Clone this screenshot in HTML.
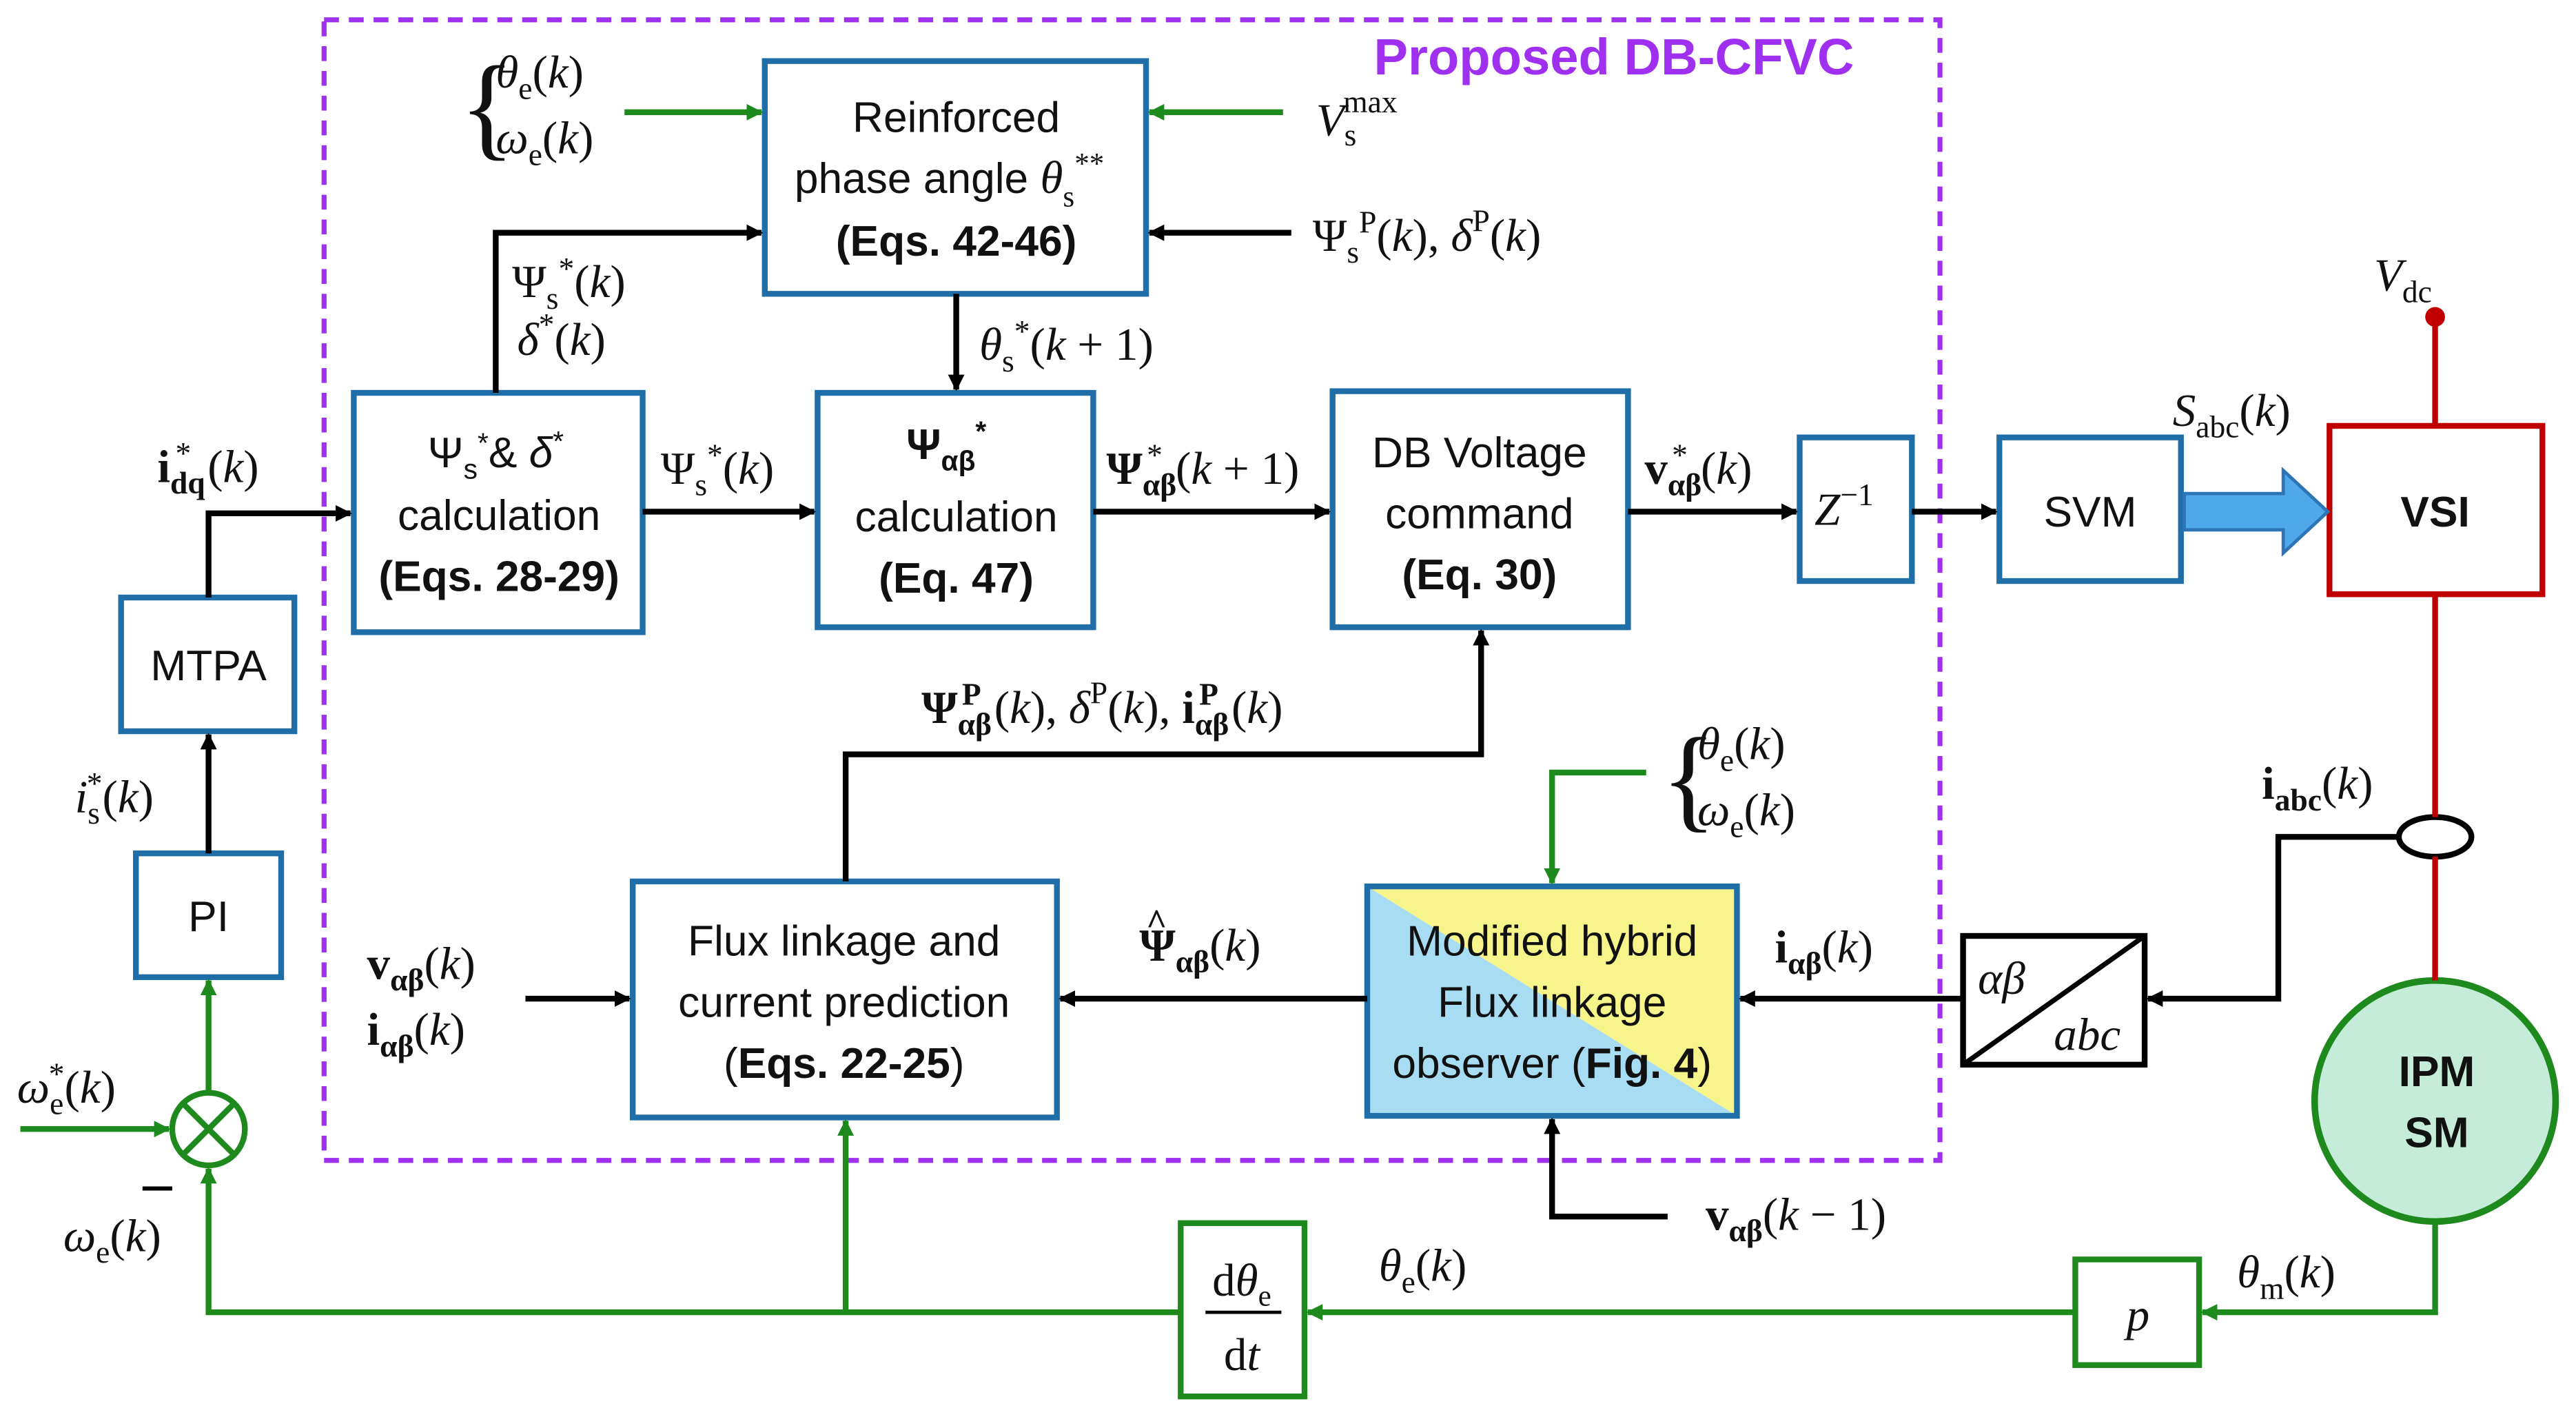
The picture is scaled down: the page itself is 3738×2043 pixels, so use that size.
<!DOCTYPE html>
<html><head><meta charset="utf-8">
<style>
html,body{margin:0;padding:0;background:#fff;}
svg{display:block;}
.t{font-family:"Liberation Sans",sans-serif;font-size:26px;fill:#111;}
.m{font-family:"Liberation Serif",serif;font-size:28px;fill:#111;}
.b{font-weight:bold;}
.br{font-family:"Liberation Serif",serif;font-size:70px;fill:#111;font-weight:normal;}
</style></head><body>
<svg width="3738" height="2043" viewBox="0 0 1560 853" xmlns="http://www.w3.org/2000/svg">
<defs>
<marker id="ak" markerWidth="10" markerHeight="10" refX="9" refY="5" orient="auto" markerUnits="userSpaceOnUse"><path d="M0,0 L10,5 L0,10 z" fill="#000"/></marker>
<marker id="ag" markerWidth="10" markerHeight="10" refX="9" refY="5" orient="auto" markerUnits="userSpaceOnUse"><path d="M0,0 L10,5 L0,10 z" fill="#1e8a1e"/></marker>
</defs>
<rect width="1560" height="853" fill="#fff"/>
<rect x="196" y="12" width="979" height="691" fill="none" stroke="#a030f0" stroke-width="3" stroke-dasharray="9,6"/>
<text x="832" y="45" font-family="Liberation Sans,sans-serif" font-size="31" font-weight="bold" fill="#a030f0">Proposed DB-CFVC</text>

<g fill="none" stroke="#1f6ea8" stroke-width="3.5">
<rect x="463" y="37" width="231" height="141"/>
<rect x="214" y="238" width="175" height="145"/>
<rect x="495" y="238" width="167" height="142"/>
<rect x="807" y="237" width="179" height="143"/>
<rect x="1090" y="265" width="68" height="87"/>
<rect x="1211" y="265" width="110" height="87"/>
<rect x="73" y="362" width="105" height="81"/>
<rect x="82" y="517" width="88" height="75"/>
<rect x="383" y="534" width="257" height="143"/>
</g>
<polygon points="828,537 1052,676 828,676" fill="#a8dcf2"/>
<polygon points="828,537 1052,537 1052,676" fill="#f6f48a"/>
<rect x="828" y="537" width="224" height="139" fill="none" stroke="#1f6ea8" stroke-width="3.5"/>
<rect x="1411" y="258" width="129" height="102" fill="none" stroke="#c00000" stroke-width="3.5"/>
<rect x="1189" y="567" width="110" height="78" fill="none" stroke="#000" stroke-width="3.5"/>
<line x1="1189" y1="645" x2="1299" y2="567" stroke="#000" stroke-width="3"/>
<circle cx="1475" cy="667" r="73" fill="#c5ecd9" stroke="#1e8a1e" stroke-width="4"/>
<g fill="none" stroke="#1e8a1e" stroke-width="3.5">
<rect x="1257" y="763" width="75" height="64"/>
<rect x="715" y="741" width="75" height="105"/>
<circle cx="126" cy="684" r="22"/>
<line x1="110" y1="668" x2="142" y2="700"/><line x1="142" y1="668" x2="110" y2="700"/>
</g>

<!-- box texts -->
<text class="t" text-anchor="middle" x="579" y="80">Reinforced</text>
<text class="t" x="481" y="117">phase angle <tspan class="m" font-style="italic">θ</tspan><tspan font-family="Liberation Serif" font-size="18" dy="8">s</tspan><tspan font-family="Liberation Serif" font-size="18" dy="-20">**</tspan></text>
<text class="t b" text-anchor="middle" x="579" y="155">(Eqs. 42-46)</text>
<text class="t" text-anchor="middle" x="300" y="283">Ψ<tspan font-size="17" dy="7">s</tspan><tspan font-size="17" dy="-16">*</tspan><tspan dy="9">&amp; </tspan><tspan font-style="italic">δ</tspan><tspan font-size="17" dy="-10">*</tspan></text>
<text class="t" text-anchor="middle" x="302" y="321">calculation</text>
<text class="t b" text-anchor="middle" x="302" y="358">(Eqs. 28-29)</text>
<text class="t b" text-anchor="middle" x="573" y="278">Ψ<tspan font-size="17" dy="7">αβ</tspan><tspan font-size="17" dy="-18">*</tspan></text>
<text class="t" text-anchor="middle" x="579" y="322">calculation</text>
<text class="t b" text-anchor="middle" x="579" y="359">(Eq. 47)</text>
<text class="t" text-anchor="middle" x="896" y="283">DB Voltage</text>
<text class="t" text-anchor="middle" x="896" y="320">command</text>
<text class="t b" text-anchor="middle" x="896" y="357">(Eq. 30)</text>
<text class="m" font-style="italic" x="1099" y="318">Z<tspan font-style="normal" font-size="19" dy="-12">−1</tspan></text>
<text class="t" text-anchor="middle" x="1266" y="319">SVM</text>
<text class="t b" text-anchor="middle" x="1475" y="319">VSI</text>
<text class="t" text-anchor="middle" x="126" y="412">MTPA</text>
<text class="t" text-anchor="middle" x="126" y="564">PI</text>
<text class="t" text-anchor="middle" x="511" y="579">Flux linkage and</text>
<text class="t" text-anchor="middle" x="511" y="616">current prediction</text>
<text class="t" text-anchor="middle" x="511" y="653">(<tspan font-weight="bold">Eqs. 22-25</tspan>)</text>
<text class="t" text-anchor="middle" x="940" y="579">Modified hybrid</text>
<text class="t" text-anchor="middle" x="940" y="616">Flux linkage</text>
<text class="t" text-anchor="middle" x="940" y="653">observer (<tspan font-weight="bold">Fig. 4</tspan>)</text>
<text class="t b" text-anchor="middle" x="1476" y="658">IPM</text>
<text class="t b" text-anchor="middle" x="1476" y="695">SM</text>
<text class="m" font-style="italic" text-anchor="middle" x="1295" y="806">p</text>
<text class="m" text-anchor="middle" x="752" y="785">d<tspan font-style="italic">θ</tspan><tspan font-size="18" dy="6">e</tspan></text>
<line x1="730" y1="795" x2="776" y2="795" stroke="#000" stroke-width="2"/>
<text class="m" text-anchor="middle" x="752" y="830">d<tspan font-style="italic">t</tspan></text>
<text class="m" font-style="italic" x="1198" y="602">αβ</text>
<text class="m" font-style="italic" x="1244" y="636">abc</text>

<!-- black connectors -->
<g fill="none" stroke="#000" stroke-width="3.5">
<path d="M782,141 L696,141" marker-end="url(#ak)"/>
<path d="M300,238 L300,141 L461,141" marker-end="url(#ak)"/>
<path d="M579,178 L579,236" marker-end="url(#ak)"/>
<path d="M126,362 L126,311 L212,311" marker-end="url(#ak)"/>
<path d="M389,310 L493,310" marker-end="url(#ak)"/>
<path d="M662,310 L805,310" marker-end="url(#ak)"/>
<path d="M986,310 L1088,310" marker-end="url(#ak)"/>
<path d="M1158,310 L1209,310" marker-end="url(#ak)"/>
<path d="M1453,507 L1380,507 L1380,605 L1301,605" marker-end="url(#ak)"/>
<path d="M1189,605 L1054,605" marker-end="url(#ak)"/>
<path d="M828,605 L642,605" marker-end="url(#ak)"/>
<path d="M318,605 L381,605" marker-end="url(#ak)"/>
<path d="M512,534 L512,457 L897,457 L897,382" marker-end="url(#ak)"/>
<path d="M1010,737 L940,737 L940,678" marker-end="url(#ak)"/>
<path d="M126,517 L126,445" marker-end="url(#ak)"/>
</g>
<ellipse cx="1475" cy="507" rx="22" ry="12" fill="#fff" stroke="#000" stroke-width="3.5"/>

<!-- red -->
<g stroke="#c00000" stroke-width="3.5" fill="none">
<path d="M1475,192 L1475,258"/>
<path d="M1475,360 L1475,495"/>
<path d="M1475,519 L1475,594"/>
</g>
<circle cx="1475" cy="192" r="6" fill="#c00000"/>

<!-- blue arrow -->
<polygon points="1323,299 1383,299 1383,285 1410,310 1383,335 1383,321 1323,321" fill="#4ea8ea" stroke="#2e75b6" stroke-width="2"/>

<!-- green connectors -->
<g fill="none" stroke="#1e8a1e" stroke-width="3.5">
<path d="M378,68 L461,68" marker-end="url(#ag)"/>
<path d="M777,68 L696,68" marker-end="url(#ag)"/>
<path d="M997,468 L940,468 L940,535" marker-end="url(#ag)"/>
<path d="M1475,740 L1475,795 L1334,795" marker-end="url(#ag)"/>
<path d="M1257,795 L792,795" marker-end="url(#ag)"/>
<path d="M715,795 L126,795 L126,708" marker-end="url(#ag)"/>
<path d="M512,795 L512,679" marker-end="url(#ag)"/>
<path d="M12,684 L102,684" marker-end="url(#ag)"/>
<path d="M126,662 L126,594" marker-end="url(#ag)"/>
</g>

<!-- labels -->
<text class="br" x="278" y="88">{</text>
<text class="m" x="300" y="53"><tspan font-style="italic">θ</tspan><tspan font-size="19" dy="7">e</tspan><tspan dy="-7">(</tspan><tspan font-style="italic">k</tspan>)</text>
<text class="m" x="300" y="93"><tspan font-style="italic">ω</tspan><tspan font-size="19" dy="7">e</tspan><tspan dy="-7">(</tspan><tspan font-style="italic">k</tspan>)</text>
<text class="br" x="1006" y="495">{</text>
<text class="m" x="1028" y="460"><tspan font-style="italic">θ</tspan><tspan font-size="19" dy="7">e</tspan><tspan dy="-7">(</tspan><tspan font-style="italic">k</tspan>)</text>
<text class="m" x="1028" y="500"><tspan font-style="italic">ω</tspan><tspan font-size="19" dy="7">e</tspan><tspan dy="-7">(</tspan><tspan font-style="italic">k</tspan>)</text>
<text class="m" font-style="italic" x="797" y="82">V<tspan font-style="normal" font-size="19" dy="6">s</tspan><tspan font-style="normal" font-size="19" dx="-8" dy="-20">max</tspan></text>
<text class="m" x="795" y="152">Ψ<tspan font-size="19" dy="7">s</tspan><tspan font-size="19" dy="-18">P</tspan><tspan dy="11">(</tspan><tspan font-style="italic">k</tspan>), <tspan font-style="italic">δ</tspan><tspan font-size="19" dy="-12">P</tspan><tspan dy="12">(</tspan><tspan font-style="italic">k</tspan>)</text>
<text class="m" x="310" y="180">Ψ<tspan font-size="19" dy="7">s</tspan><tspan font-size="19" dy="-18">*</tspan><tspan dy="11">(</tspan><tspan font-style="italic">k</tspan>)</text>
<text class="m" x="313" y="215"><tspan font-style="italic">δ</tspan><tspan font-size="19" dy="-12">*</tspan><tspan dy="12">(</tspan><tspan font-style="italic">k</tspan>)</text>
<text class="m" x="593" y="218"><tspan font-style="italic">θ</tspan><tspan font-size="19" dy="7">s</tspan><tspan font-size="19" dy="-18">*</tspan><tspan dy="11">(</tspan><tspan font-style="italic">k</tspan> + 1)</text>
<text class="m" x="95" y="292"><tspan font-weight="bold">i</tspan><tspan font-size="19" font-weight="bold" dy="7">dq</tspan><tspan font-size="19" dx="-18" dy="-18">*</tspan><tspan dx="10" dy="11">(</tspan><tspan font-style="italic">k</tspan>)</text>
<text class="m" x="400" y="293">Ψ<tspan font-size="19" dy="7">s</tspan><tspan font-size="19" dy="-18">*</tspan><tspan dy="11">(</tspan><tspan font-style="italic">k</tspan>)</text>
<text class="m" x="670" y="293"><tspan font-weight="bold">Ψ</tspan><tspan font-size="19" font-weight="bold" dy="7">αβ</tspan><tspan font-size="19" dx="-18" dy="-18">*</tspan><tspan dx="8" dy="11">(</tspan><tspan font-style="italic">k</tspan> + 1)</text>
<text class="m" x="996" y="293"><tspan font-weight="bold">v</tspan><tspan font-size="19" font-weight="bold" dy="7">αβ</tspan><tspan font-size="19" dx="-18" dy="-18">*</tspan><tspan dx="8" dy="11">(</tspan><tspan font-style="italic">k</tspan>)</text>
<text class="m" x="1316" y="258"><tspan font-style="italic">S</tspan><tspan font-size="19" dy="7">abc</tspan><tspan dy="-7">(</tspan><tspan font-style="italic">k</tspan>)</text>
<text class="m" x="1438" y="176"><tspan font-style="italic">V</tspan><tspan font-size="19" dy="7">dc</tspan></text>
<text class="m" x="1370" y="484"><tspan font-weight="bold">i</tspan><tspan font-size="19" font-weight="bold" dy="7">abc</tspan><tspan dy="-7">(</tspan><tspan font-style="italic">k</tspan>)</text>
<text class="m" x="1075" y="583"><tspan font-weight="bold">i</tspan><tspan font-size="19" font-weight="bold" dy="7">αβ</tspan><tspan dy="-7">(</tspan><tspan font-style="italic">k</tspan>)</text>
<text class="m" x="690" y="582"><tspan font-weight="bold">Ψ</tspan><tspan font-size="19" font-weight="bold" dy="7">αβ</tspan><tspan dy="-7">(</tspan><tspan font-style="italic">k</tspan>)</text>
<text class="m" x="694" y="566" font-weight="bold" style="font-size:22px">^</text>
<text class="m" x="222" y="593"><tspan font-weight="bold">v</tspan><tspan font-size="19" font-weight="bold" dy="7">αβ</tspan><tspan dy="-7">(</tspan><tspan font-style="italic">k</tspan>)</text>
<text class="m" x="222" y="633"><tspan font-weight="bold">i</tspan><tspan font-size="19" font-weight="bold" dy="7">αβ</tspan><tspan dy="-7">(</tspan><tspan font-style="italic">k</tspan>)</text>
<text class="m" x="558" y="438"><tspan font-weight="bold">Ψ</tspan><tspan font-size="19" font-weight="bold" dy="7">αβ</tspan><tspan font-size="19" font-weight="bold" dx="-18" dy="-18">P</tspan><tspan dx="8" dy="11">(</tspan><tspan font-style="italic">k</tspan>), <tspan font-style="italic">δ</tspan><tspan font-size="19" dy="-12">P</tspan><tspan dy="12">(</tspan><tspan font-style="italic">k</tspan>), <tspan font-weight="bold">i</tspan><tspan font-size="19" font-weight="bold" dy="7">αβ</tspan><tspan font-size="19" font-weight="bold" dx="-18" dy="-18">P</tspan><tspan dx="8" dy="11">(</tspan><tspan font-style="italic">k</tspan>)</text>
<text class="m" x="1033" y="745"><tspan font-weight="bold">v</tspan><tspan font-size="19" font-weight="bold" dy="7">αβ</tspan><tspan dy="-7">(</tspan><tspan font-style="italic">k</tspan> − 1)</text>
<text class="m" x="1355" y="780"><tspan font-style="italic">θ</tspan><tspan font-size="19" dy="7">m</tspan><tspan dy="-7">(</tspan><tspan font-style="italic">k</tspan>)</text>
<text class="m" x="835" y="776"><tspan font-style="italic">θ</tspan><tspan font-size="19" dy="7">e</tspan><tspan dy="-7">(</tspan><tspan font-style="italic">k</tspan>)</text>
<text class="m" x="45" y="492"><tspan font-style="italic">i</tspan><tspan font-size="19" dy="7">s</tspan><tspan font-size="19" dx="-8" dy="-18">*</tspan><tspan dy="11">(</tspan><tspan font-style="italic">k</tspan>)</text>
<text class="m" x="10" y="668"><tspan font-style="italic">ω</tspan><tspan font-size="19" dy="7">e</tspan><tspan font-size="19" dx="-9" dy="-18">*</tspan><tspan dy="11">(</tspan><tspan font-style="italic">k</tspan>)</text>
<text class="m" x="38" y="758"><tspan font-style="italic">ω</tspan><tspan font-size="19" dy="7">e</tspan><tspan dy="-7">(</tspan><tspan font-style="italic">k</tspan>)</text>
<line x1="86" y1="720" x2="104" y2="720" stroke="#000" stroke-width="2.5"/>
</svg>
</body></html>
